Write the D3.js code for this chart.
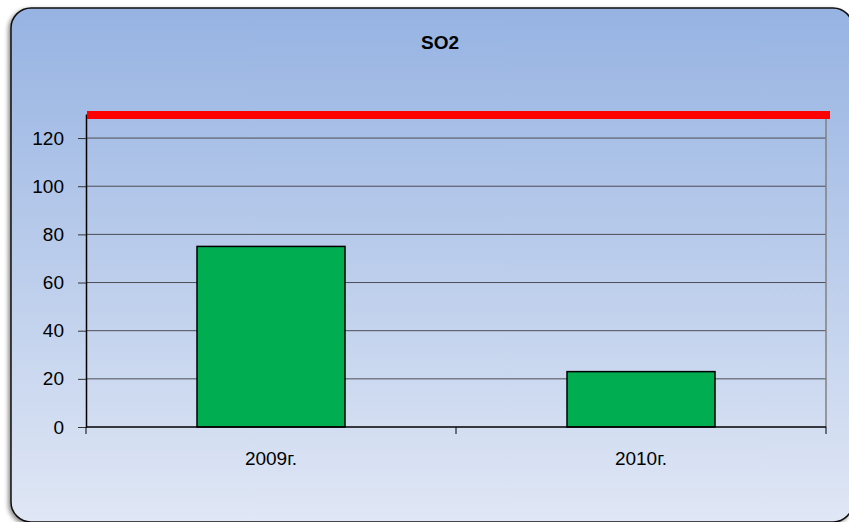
<!DOCTYPE html>
<html>
<head>
<meta charset="utf-8">
<script src="https://cdn.jsdelivr.net/npm/d3@7"></script>
<style>
  body { margin: 0; background: #fff; }
  text { font-family: "Liberation Sans", Arial, sans-serif; fill: #000; }
</style>
</head>
<body>
<div id="chart"></div>
<script>
// chart data
var title = "SO2";
var categories = ["2009г.", "2010г."];
var values = [75, 23];
var limitValue = 130;
var yTicks = [0, 20, 40, 60, 80, 100, 120];

var svgWidth = 849;
var svgHeight = 522;

var margin = { top: 114, right: 23, bottom: 95, left: 86 };
var width = svgWidth - margin.left - margin.right;
var height = svgHeight - margin.top - margin.bottom;

var svg = d3.select("#chart")
  .append("svg")
  .attr("width", svgWidth)
  .attr("height", svgHeight);

var defs = svg.append("defs");

var grad = defs.append("linearGradient")
  .attr("id", "bg")
  .attr("x1", 0).attr("y1", 0)
  .attr("x2", 0).attr("y2", 1);
grad.append("stop").attr("offset", "0%").attr("stop-color", "#96b3e2");
grad.append("stop").attr("offset", "100%").attr("stop-color", "#e0e7f5");

var shadow = defs.append("filter")
  .attr("id", "shadow")
  .attr("x", "-5%").attr("y", "-5%")
  .attr("width", "110%").attr("height", "110%");
shadow.append("feDropShadow")
  .attr("dx", -2).attr("dy", 2)
  .attr("stdDeviation", 2)
  .attr("flood-color", "#000")
  .attr("flood-opacity", 0.45);

// background box
svg.append("rect")
  .attr("x", 11)
  .attr("y", 8)
  .attr("width", 842)
  .attr("height", 514)
  .attr("rx", 20)
  .attr("fill", "url(#bg)")
  .attr("stroke", "#111")
  .attr("stroke-width", 1.5)
  .attr("filter", "url(#shadow)");

// title
svg.append("text")
  .attr("x", 440)
  .attr("y", 49)
  .attr("text-anchor", "middle")
  .style("font-size", "19px")
  .style("font-weight", "bold")
  .text(title);

var chartGroup = svg.append("g")
  .attr("transform", `translate(${margin.left}, ${margin.top})`);

// scales
var xScale = d3.scaleBand()
  .domain(categories)
  .range([0, width])
  .padding(0);

var yScale = d3.scaleLinear()
  .domain([0, limitValue])
  .range([height, 0]);

// gridlines
chartGroup.append("g")
  .selectAll("line")
  .data(yTicks.filter(d => d > 0))
  .enter()
  .append("line")
  .attr("x1", 0)
  .attr("x2", width)
  .attr("y1", d => yScale(d))
  .attr("y2", d => yScale(d))
  .attr("stroke", "#4d4d55")
  .attr("stroke-width", 1);

// right plot border
chartGroup.append("line")
  .attr("x1", width).attr("x2", width)
  .attr("y1", 0).attr("y2", height)
  .attr("stroke", "#808080")
  .attr("stroke-width", 1.5);

// bars
var barWidth = xScale.bandwidth() * 0.4;
chartGroup.selectAll(".bar")
  .data(values)
  .enter()
  .append("rect")
  .attr("class", "bar")
  .attr("x", (d, i) => xScale(categories[i]) + (xScale.bandwidth() - barWidth) / 2)
  .attr("y", d => yScale(d))
  .attr("width", barWidth)
  .attr("height", d => height - yScale(d))
  .attr("fill", "#00ad50")
  .attr("stroke", "#000")
  .attr("stroke-width", 1.5);

// y axis
var leftAxis = d3.axisLeft(yScale)
  .tickValues(yTicks)
  .tickSize(8)
  .tickSizeOuter(0)
  .tickPadding(14);

var yAxis = chartGroup.append("g")
  .call(leftAxis);
yAxis.select(".domain").attr("stroke", "#000").attr("stroke-width", 1.5);
yAxis.selectAll(".tick line").attr("stroke", "#333");
yAxis.selectAll("text")
  .style("font-size", "19px")
  .style("font-family", "Liberation Sans, Arial, sans-serif")
  .attr("fill", "#000");

// x axis with ticks at category boundaries
var xAxis = chartGroup.append("g")
  .attr("transform", `translate(0, ${height})`);
xAxis.append("line")
  .attr("x1", 0).attr("x2", width)
  .attr("y1", 0).attr("y2", 0)
  .attr("stroke", "#000")
  .attr("stroke-width", 1.5);
var bounds = categories.map(c => xScale(c)).concat([width]);
xAxis.selectAll(".xtick")
  .data(bounds)
  .enter()
  .append("line")
  .attr("class", "xtick")
  .attr("x1", d => d).attr("x2", d => d)
  .attr("y1", 0).attr("y2", 7)
  .attr("stroke", "#000");
xAxis.selectAll(".xlabel")
  .data(categories)
  .enter()
  .append("text")
  .attr("class", "xlabel")
  .attr("x", d => xScale(d) + xScale.bandwidth() / 2)
  .attr("y", 38)
  .attr("text-anchor", "middle")
  .style("font-size", "19px")
  .text(d => d);

// limit line
chartGroup.append("line")
  .attr("x1", 1)
  .attr("x2", width + 4)
  .attr("y1", yScale(limitValue) + 1)
  .attr("y2", yScale(limitValue) + 1)
  .attr("stroke", "#ff0000")
  .attr("stroke-width", 8);
</script>
</body>
</html>
